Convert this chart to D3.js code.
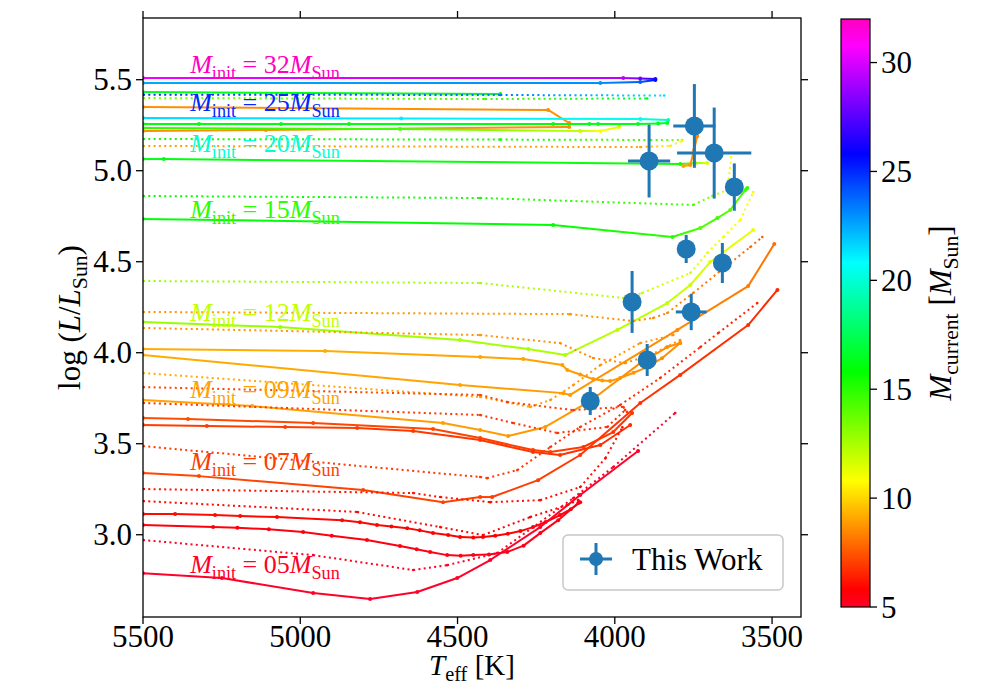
<!DOCTYPE html>
<html>
<head>
<meta charset="utf-8">
<script src="https://cdn.jsdelivr.net/npm/d3@7"></script>
<style>
  body { margin: 0; background: #fff; }
  svg, text { font-family: "Liberation Serif", "DejaVu Serif", serif; }
  text { fill: #000; }
</style>
</head>
<body>
<div id="container"></div>
<script>
/* DATA: tracks are [Teff, logL, current mass] */
// solid tracks
const trkA = [[5500,5.509,30.5],[3973,5.509,29.5],[3919,5.506,28],[3871,5.504,26.5]]
const trkB = [[5500,5.482,22.5],[4046,5.482,23],[3919,5.487,24],[3871,5.498,25.5]]
const trkC = [[5500,5.432,16.3],[4364,5.421,16]]
const trkF = [[5500,5.350,8.6],[4212,5.334,8.6],[4145,5.262,8.6],[4145,5.240,8.6],[5109,5.224,8.6],[5500,5.218,8.6]]
const trkG = [[5500,5.290,21.5],[4679,5.287,21.2],[3919,5.284,20.5],[3830,5.279,19.5]]
const trkH = [[5500,5.257,16],[5322,5.257,16],[5061,5.257,16],[4845,5.257,16.1],[4196,5.257,16.1],[4081,5.257,16.2],[4053,5.257,16.2],[3926,5.257,16.3],[3862,5.260,16.4],[3833,5.262,16.5]]
const trkI = [[5500,5.235,15],[4683,5.229,14.5],[4110,5.218,12],[4046,5.218,10.8],[3986,5.240,11.5]]
const trkL = [[5500,5.064,16.2],[5434,5.064,16.2],[3792,5.037,15.5],[3744,5.042,13],[3706,5.042,11.5]]
const trkM = [[3738,5.191,8.5],[3748,5.114,8.5],[3760,5.031,8.7],[3782,5.026,9]]
const trkO = [[5500,4.735,16],[4196,4.702,15.8],[3817,4.636,15],[3728,4.685,14.2],[3674,4.740,14.5],[3633,4.784,14],[3585,4.894,14.5],[3579,4.905,15]]
const trkP = [[5500,4.169,12.8],[5064,4.141,12.8],[4492,4.070,12.6],[4275,4.020,12.5],[4158,3.987,12.4],[3992,4.125,12.2],[3833,4.273,12],[3760,4.372,11.8],[3697,4.498,11.5],[3560,4.674,11.2]]
const trkS1 = [[5500,4.020,9.2],[4921,4.009,9.2],[4428,3.976,9],[4291,3.965,9],[4167,3.932,8.9],[4151,3.905,8.9],[4110,3.880,8.8],[4069,3.855,8.8],[4040,3.848,8.8],[4015,3.844,8.8],[3983,3.861,8.8],[3940,3.890,8.7],[3897,3.921,8.7],[3850,3.970,8.6],[3792,4.053,8.6]]
const trkS2 = [[5500,3.987,9.2],[4492,3.822,9],[4164,3.778,8.8],[4142,3.768,8.8],[3801,4.125,8.5],[3576,4.366,8.2],[3493,4.597,8]]
const trkS4 = [[5500,3.740,9],[5153,3.707,9],[4546,3.614,8.9],[4428,3.575,8.9],[4339,3.542,8.8],[4221,3.592,8.8],[4078,3.735,8.7],[3919,3.943,8.6],[3833,4.031,8.6],[3792,4.053,8.6]]
const trkU1 = [[5500,3.641,7.3],[5357,3.636,7.3],[4959,3.614,7.2],[4578,3.581,7.2],[4428,3.531,7.1],[4260,3.465,7],[4205,3.454,7],[4100,3.482,6.9],[4005,3.564,6.9],[3945,3.669,6.8]]
const trkU2 = [[5500,3.603,7],[5297,3.597,7],[5048,3.592,7],[4819,3.586,7],[4641,3.570,6.9],[4428,3.520,6.9],[4260,3.454,6.8],[4174,3.438,6.8],[4046,3.493,6.7],[3951,3.603,6.7]]
const trkW = [[5500,3.339,7.2],[5322,3.322,7.2],[4800,3.246,7.1],[4546,3.179,7.1],[4428,3.207,7],[4390,3.207,7],[4244,3.300,7],[4110,3.438,6.9],[3919,3.724,6.8],[3792,3.878,6.8],[3576,4.152,6.7],[3483,4.345,6.6]]
const trkY1 = [[5500,3.114,6],[5398,3.114,6],[5271,3.108,6],[5191,3.103,6],[5074,3.097,5.9],[4867,3.080,5.9],[4810,3.068,5.9],[4756,3.053,5.9],[4710,3.045,5.9],[4660,3.036,5.9],[4620,3.024,5.8],[4578,3.009,5.8],[4530,2.998,5.8],[4492,2.987,5.8],[4450,2.985,5.8],[4419,2.987,5.8],[4380,2.995,5.8],[4340,3.005,5.8],[4300,3.020,5.8],[4260,3.042,5.8],[4220,3.070,5.7],[4174,3.108,5.7],[4140,3.140,5.7],[4110,3.179,5.7]]
const trkY2 = [[5500,3.053,5.6],[5277,3.042,5.6],[5200,3.038,5.6],[5100,3.030,5.5],[4991,3.015,5.5],[4900,2.995,5.5],[4788,2.971,5.5],[4683,2.938,5.5],[4630,2.920,5.4],[4587,2.905,5.4],[4533,2.888,5.4],[4490,2.885,5.4],[4450,2.888,5.4],[4400,2.892,5.4],[4342,2.905,5.4],[4290,2.940,5.3],[4237,3.009,5.3],[4180,3.080,5.3],[4116,3.174,5.3]]
const trkZ2 = [[5500,2.789,5],[5249,2.762,5],[4959,2.680,5],[4778,2.647,5],[4628,2.685,5],[4501,2.762,5],[4396,2.861,5],[4237,3.042,5],[4110,3.218,5],[3926,3.460,5]]

// dotted tracks
const trkD = [[5500,5.418,25],[4364,5.416,23.5],[3843,5.413,21.5]]
const trkE = [[5500,5.399,13.5],[4412,5.394,14.5],[3897,5.397,16]]
const trkJ = [[5500,5.174,15.5],[4364,5.171,15.5],[3887,5.169,14.5],[3786,5.169,13]]
const trkK = [[5500,5.136,9],[3919,5.130,9],[3824,5.136,10.5],[3786,5.163,11]]
const trkN = [[5500,4.861,15.8],[4428,4.850,15.5],[3751,4.812,14.5],[3690,4.861,13],[3642,4.894,11.5],[3630,5.075,10.8]]
const trkPd = [[5500,4.394,12.8],[4428,4.383,12.6],[3973,4.301,12.2],[3913,4.328,12],[3760,4.438,11.5],[3706,4.548,11.2],[3655,4.636,11],[3601,4.729,10.8],[3560,4.883,10.6]]
const trkQ = [[5500,4.224,8.8],[4142,4.212,8.8],[3941,4.174,8.6],[3878,4.191,8.5],[3833,4.218,8.5],[3751,4.328,8.3],[3633,4.493,8],[3569,4.581,7.8],[3531,4.636,7.6]]
const trkR = [[5500,4.136,8.8],[4428,4.097,8.7],[4174,4.053,8.6],[4069,3.971,8.5],[3967,3.943,8.5],[3887,3.987,8.6],[3792,4.070,8.6]]
const trkS3 = [[5500,3.888,9.2],[4428,3.757,9],[4269,3.702,8.9],[4205,3.740,8.9],[4132,3.822,8.8],[4046,3.932,8.8],[3919,4.053,8.7],[3814,4.097,8.6]]
const trkT1 = [[5500,3.811,7.2],[4428,3.768,7.1],[4342,3.729,7],[4132,3.685,7],[3973,3.702,6.9],[3961,3.674,6.9]]
const trkT2 = [[5500,3.724,6.9],[4428,3.658,6.9],[4323,3.614,6.8],[4183,3.559,6.8],[4024,3.592,6.7],[3967,3.685,6.7]]
const trkV = [[5500,3.487,7],[4428,3.317,6.9],[4406,3.311,6.9],[4310,3.355,6.9],[4205,3.482,6.8],[4110,3.592,6.8],[3983,3.713,6.7],[3856,3.861,6.7],[3728,4.031,6.6],[3671,4.108,6.6],[3547,4.273,6.5]]
const trkX1 = [[5500,3.251,6.2],[4641,3.229,6.2],[4555,3.207,6.1],[4396,3.179,6.1],[4237,3.190,6],[4110,3.262,6],[4030,3.420,6],[3976,3.590,6]]
const trkX2 = [[5500,3.185,6],[4819,3.125,6],[4555,3.042,5.9],[4419,2.998,5.9],[4269,3.097,5.8],[4151,3.163,5.8],[4116,3.190,5.8]]
const trkZ1 = [[5500,2.971,5.1],[4959,2.888,5.1],[4641,2.806,5.1],[4533,2.833,5.1],[4374,2.899,5],[4132,3.201,5],[4005,3.372,5],[3808,3.669,5]]

const solidTracks = [trkA, trkB, trkC, trkF, trkG, trkH, trkI, trkL, trkM, trkO, trkP, trkS1, trkS2, trkS4, trkU1, trkU2, trkW, trkY1, trkY2, trkZ2]
const dottedTracks = [trkD, trkE, trkJ, trkK, trkN, trkPd, trkQ, trkR, trkS3, trkT1, trkT2, trkV, trkX1, trkX2, trkZ1]

// initial-mass labels
const labelText = ["32", "25", "20", "15", "12", "09", "07", "05"]
const labelMass = [32, 25, 20, 15, 12, 9, 7, 5]
const labelT = 5350
const labelL = [5.537, 5.328, 5.103, 4.740, 4.174, 3.751, 3.355, 2.789]

// observed stars ("This Work")
const obsT = [3891, 3747, 3684, 3620, 3773, 3658, 3945, 3757, 3897, 4078]
const obsL = [5.053, 5.246, 5.097, 4.910, 4.570, 4.493, 4.279, 4.224, 3.960, 3.735]
const obsTerr = [67, 67, 118, 25, 25, 25, 25, 49, 25, 25]
const obsLerr = [0.20, 0.23, 0.25, 0.13, 0.077, 0.11, 0.17, 0.10, 0.088, 0.077]

// ticks
const xTicks = [5500, 5000, 4500, 4000, 3500]
const yTicks = [3.0, 3.5, 4.0, 4.5, 5.0, 5.5]
const cTicks = [5, 10, 15, 20, 25, 30]

// gist_rainbow colormap
const cmapPos = [0, 0.03, 0.215, 0.4, 0.586, 0.77, 0.954, 1]
const cmapHex = ["#ff0029", "#ff0000", "#ffff00", "#00ff00", "#00ffff", "#0000ff", "#ff00ff", "#ff00bf"]
const massMin = 5, massMax = 32

/* CONSTANTS */
const width = 993, height = 686
const plot = { left: 143, right: 801, top: 18, bottom: 617 }
const cbar = { left: 841, right: 870, top: 19, bottom: 607 }
const fs = 31
const blue = "#1f77b4"
const serif = '"Liberation Serif", "DejaVu Serif", serif'

const cmap = d3.scaleLinear()
  .domain(cmapPos.map(p => massMin + p * (massMax - massMin)))
  .range(cmapHex)
  .clamp(true)

/* SCALES */
const xScale = d3.scaleLinear().domain([5500, 3408]).range([plot.left, plot.right])
const yScale = d3.scaleLinear().domain([2.548, 5.839]).range([plot.bottom, plot.top])
const cScale = d3.scaleLinear().domain([massMin, massMax]).range([cbar.bottom, cbar.top])

const svg = d3.select("#container").append("svg")
  .attr("width", width).attr("height", height)
  .attr("font-family", serif)

const defs = svg.append("defs")
defs.append("clipPath").attr("id", "clip")
  .append("rect")
  .attr("x", plot.left).attr("y", plot.top)
  .attr("width", plot.right - plot.left).attr("height", plot.bottom - plot.top)

// mathtext-like label helper
function addMath(textSel, parts, size) {
  let shift = 0
  parts.forEach(p => {
    const target = p.sub ? size * 0.22 : 0
    textSel.append("tspan")
      .attr("font-size", p.sub ? size * 0.7 : size)
      .attr("font-style", p.it ? "italic" : "normal")
      .attr("dy", target - shift)
      .text(p.t)
    shift = target
  })
}

/* TRACKS */
const trackG = svg.append("g").attr("clip-path", "url(#clip)")
let gid = 0

function drawTrack(pts, dotted) {
  d3.pairs(pts).forEach(([p, q]) => {
    const x1 = xScale(p[0]), y1 = yScale(p[1]), x2 = xScale(q[0]), y2 = yScale(q[1])
    let stroke = cmap(p[2])
    if (p[2] !== q[2]) {
      const id = "grad" + (gid++)
      const grad = defs.append("linearGradient").attr("id", id)
        .attr("gradientUnits", "userSpaceOnUse")
        .attr("x1", x1).attr("y1", y1).attr("x2", x2).attr("y2", y2)
      grad.append("stop").attr("offset", 0).attr("stop-color", cmap(p[2]))
      grad.append("stop").attr("offset", 1).attr("stop-color", cmap(q[2]))
      stroke = `url(#${id})`
    }
    trackG.append("line")
      .attr("x1", x1).attr("y1", y1).attr("x2", x2).attr("y2", y2)
      .attr("stroke", stroke)
      .attr("stroke-width", 2)
      .attr("stroke-dasharray", dotted ? "2,3.3" : null)
  })
  trackG.selectAll(null)
    .data(pts)
    .join("circle")
    .attr("cx", d => xScale(d[0]))
    .attr("cy", d => yScale(d[1]))
    .attr("r", dotted ? 1.3 : 2)
    .attr("fill", d => cmap(d[2]))
}

solidTracks.forEach(t => drawTrack(t, false))
dottedTracks.forEach(t => drawTrack(t, true))

/* INIT MASS LABELS */
labelText.forEach((lab, i) => {
  const t = svg.append("text")
    .attr("x", xScale(labelT))
    .attr("y", yScale(labelL[i]))
    .style("fill", cmap(labelMass[i]))
  addMath(t, [
    { t: "M", it: true }, { t: "init", sub: true }, { t: " = " + lab },
    { t: "M", it: true }, { t: "Sun", sub: true }
  ], 26)
})

/* OBSERVATIONS */
const obs = obsT.map((T, i) => ({ T, L: obsL[i], dT: obsTerr[i], dL: obsLerr[i] }))
const obsG = svg.append("g")
obsG.selectAll(".xerr").data(obs).join("line")
  .attr("x1", d => xScale(d.T - d.dT)).attr("x2", d => xScale(d.T + d.dT))
  .attr("y1", d => yScale(d.L)).attr("y2", d => yScale(d.L))
  .attr("stroke", blue).attr("stroke-width", 3)
obsG.selectAll(".yerr").data(obs).join("line")
  .attr("x1", d => xScale(d.T)).attr("x2", d => xScale(d.T))
  .attr("y1", d => yScale(d.L - d.dL)).attr("y2", d => yScale(d.L + d.dL))
  .attr("stroke", blue).attr("stroke-width", 3)
obsG.selectAll("circle").data(obs).join("circle")
  .attr("cx", d => xScale(d.T)).attr("cy", d => yScale(d.L))
  .attr("r", 9.5).attr("fill", blue)

/* AXES */
const tickLen = 7
const axG = svg.append("g").attr("stroke", "#000").attr("stroke-width", 1.3)
axG.append("rect")
  .attr("x", plot.left).attr("y", plot.top)
  .attr("width", plot.right - plot.left).attr("height", plot.bottom - plot.top)
  .attr("fill", "none")
xTicks.forEach(v => {
  const x = xScale(v)
  axG.append("line").attr("x1", x).attr("x2", x).attr("y1", plot.bottom).attr("y2", plot.bottom + tickLen)
  axG.append("line").attr("x1", x).attr("x2", x).attr("y1", plot.top).attr("y2", plot.top - tickLen)
  svg.append("text").attr("x", x).attr("y", plot.bottom + tickLen + 23)
    .attr("text-anchor", "middle").attr("font-size", fs).text(v)
})
yTicks.forEach(v => {
  const y = yScale(v)
  axG.append("line").attr("x1", plot.left).attr("x2", plot.left - tickLen).attr("y1", y).attr("y2", y)
  axG.append("line").attr("x1", plot.right).attr("x2", plot.right + tickLen).attr("y1", y).attr("y2", y)
  svg.append("text").attr("x", plot.left - tickLen - 4).attr("y", y + 10.5)
    .attr("text-anchor", "end").attr("font-size", fs).text(d3.format(".1f")(v))
})

const xLab = svg.append("text")
  .attr("x", (plot.left + plot.right) / 2).attr("y", 675)
  .attr("text-anchor", "middle")
addMath(xLab, [{ t: "T", it: true }, { t: "eff", sub: true }, { t: " [K]" }], 29)

const yLab = svg.append("text")
  .attr("transform", `translate(80, ${(plot.top + plot.bottom) / 2}) rotate(-90)`)
  .attr("text-anchor", "middle")
addMath(yLab, [{ t: "log (" }, { t: "L", it: true }, { t: "/" }, { t: "L", it: true }, { t: "Sun", sub: true }, { t: ")" }], fs)

/* COLORBAR */
const cgrad = defs.append("linearGradient").attr("id", "cbarGrad")
  .attr("x1", 0).attr("y1", 1).attr("x2", 0).attr("y2", 0)
cmapPos.forEach((p, i) => cgrad.append("stop").attr("offset", p).attr("stop-color", cmapHex[i]))
svg.append("rect")
  .attr("x", cbar.left).attr("y", cbar.top)
  .attr("width", cbar.right - cbar.left).attr("height", cbar.bottom - cbar.top)
  .attr("fill", "url(#cbarGrad)")
  .attr("stroke", "#000").attr("stroke-width", 1.2)
cTicks.forEach(v => {
  const y = cScale(v)
  svg.append("line").attr("x1", cbar.right).attr("x2", cbar.right + tickLen)
    .attr("y1", y).attr("y2", y).attr("stroke", "#000").attr("stroke-width", 1.3)
  svg.append("text").attr("x", cbar.right + tickLen + 4).attr("y", y + 10.5)
    .attr("font-size", fs).text(v)
})
const cLab = svg.append("text")
  .attr("transform", `translate(951, ${(cbar.top + cbar.bottom) / 2}) rotate(-90)`)
  .attr("text-anchor", "middle")
addMath(cLab, [{ t: "M", it: true }, { t: "current", sub: true }, { t: " [" }, { t: "M", it: true }, { t: "Sun", sub: true }, { t: "]" }], fs)

/* LEGEND */
const leg = svg.append("g")
leg.append("rect")
  .attr("x", 563).attr("y", 535).attr("width", 220).attr("height", 55)
  .attr("rx", 5).attr("fill", "#fff").attr("fill-opacity", 0.8)
  .attr("stroke", "#c8c8c8").attr("stroke-width", 1.5)
leg.append("line").attr("x1", 580).attr("x2", 612).attr("y1", 559).attr("y2", 559)
  .attr("stroke", blue).attr("stroke-width", 3)
leg.append("line").attr("x1", 596).attr("x2", 596).attr("y1", 543).attr("y2", 575)
  .attr("stroke", blue).attr("stroke-width", 3)
leg.append("circle").attr("cx", 596).attr("cy", 559).attr("r", 7).attr("fill", blue)
leg.append("text").attr("x", 632).attr("y", 570).attr("font-size", fs).text("This Work")
</script>
</body>
</html>
